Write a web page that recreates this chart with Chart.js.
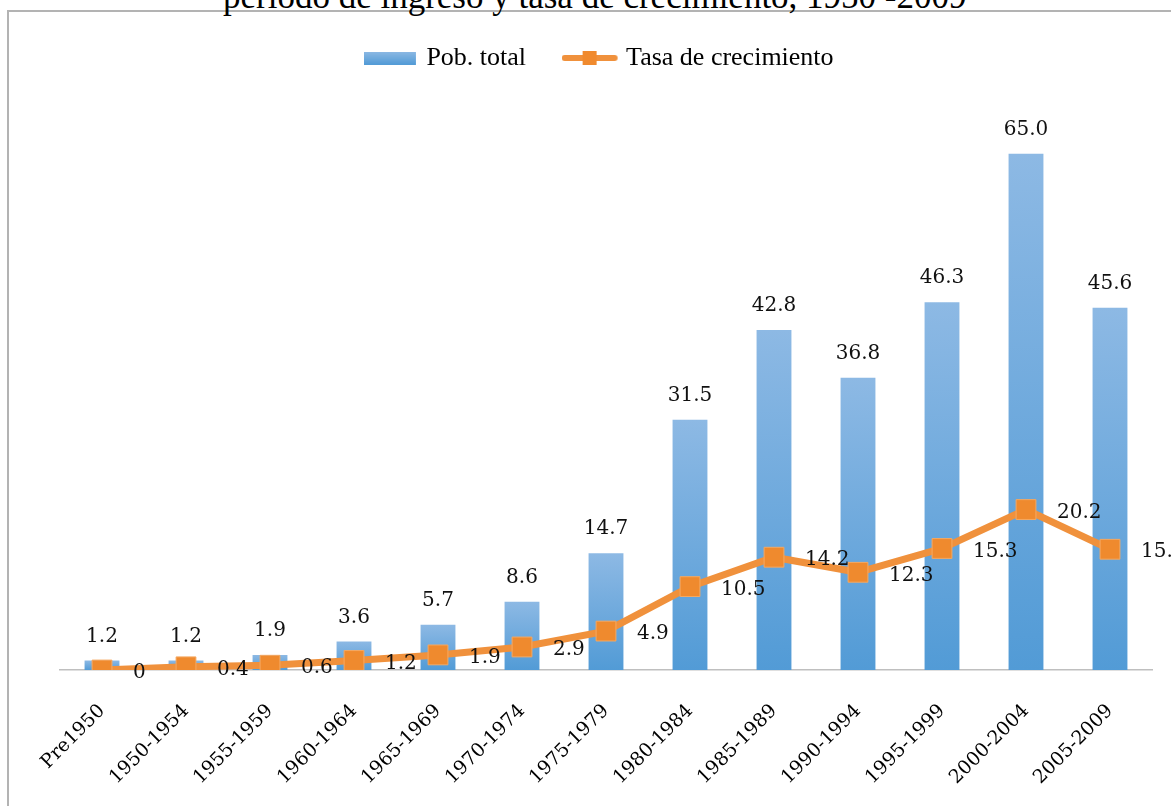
<!DOCTYPE html>
<html>
<head>
<meta charset="utf-8">
<script src="https://cdn.jsdelivr.net/npm/chart.js@4.4.0/dist/chart.umd.min.js"></script>
<style>
html, body { margin: 0; padding: 0; width: 1171px; height: 806px; overflow: hidden; background: #fff; }
#frame { position: absolute; left: 7px; top: 10px; width: 1300px; height: 900px; border-left: 2px solid #b3b3b3; border-top: 2px solid #b3b3b3; }
#title { position: absolute; left: 223px; top: -21px; font-family: "Liberation Serif"; font-size: 35px; line-height: 35px; white-space: nowrap; color: #000; }
#wrap { position: absolute; left: 8px; top: -8px; width: 1163px; height: 814px; }
</style>
</head>
<body>
<div id="frame"></div>
<div id="title">período de ingreso y tasa de crecimiento, 1950 -2009</div>
<div id="wrap"><canvas id="chart"></canvas></div>
<script>
var periods = ['Pre1950', '1950-1954', '1955-1959', '1960-1964', '1965-1969', '1970-1974', '1975-1979',
               '1980-1984', '1985-1989', '1990-1994', '1995-1999', '2000-2004', '2005-2009'];
var pobTotal = [1.2, 1.2, 1.9, 3.6, 5.7, 8.6, 14.7, 31.5, 42.8, 36.8, 46.3, 65.0, 45.6];
var tasaCrecimiento = [0, 0.4, 0.6, 1.2, 1.9, 2.9, 4.9, 10.5, 14.2, 12.3, 15.3, 20.2, 15.2];

var blueTop = '#8db9e4';
var blueBottom = '#529bd6';
var orange = '#f0913c';
var serif = "'DejaVu Serif', 'Liberation Serif', serif";

function barGradient(context) {
    var chart = context.chart;
    var v = context.raw;
    if (!chart.chartArea || typeof v !== 'number') return '#6aa7dc';
    var top = chart.scales.y.getPixelForValue(v);
    var bottom = chart.scales.y.getPixelForValue(0);
    if (bottom - top < 1) return '#6aa7dc';
    var g = chart.ctx.createLinearGradient(0, top, 0, bottom);
    g.addColorStop(0, blueTop);
    g.addColorStop(1, blueBottom);
    return g;
}

// legend icons, drawn like the excel ones (left part of a wider canvas so they sit a bit left)
function barIcon() {
    var c = document.createElement('canvas');
    c.width = 64; c.height = 13;
    var x = c.getContext('2d');
    var g = x.createLinearGradient(0, 0, 0, 13);
    g.addColorStop(0, blueTop);
    g.addColorStop(1, blueBottom);
    x.fillStyle = g;
    x.fillRect(0, 0, 52, 13);
    return c;
}

function lineIcon() {
    var c = document.createElement('canvas');
    c.width = 68; c.height = 18;
    var x = c.getContext('2d');
    x.strokeStyle = orange;
    x.lineWidth = 6;
    x.lineCap = 'round';
    x.beginPath();
    x.moveTo(3, 9);
    x.lineTo(53, 9);
    x.stroke();
    x.fillStyle = '#f08a2e';
    x.fillRect(21, 2, 14, 14);
    return c;
}

var legendIcons = [barIcon(), lineIcon()];

var legendGap = {
    id: 'legendGap',
    beforeInit: function (chart) {
        var fit = chart.legend.fit;
        chart.legend.fit = function () {
            fit.call(this);
            this.height += 33;
        };
    }
};

var valueLabels = {
    id: 'valueLabels',
    afterDatasetsDraw: function (chart) {
        var ctx = chart.ctx;
        ctx.save();
        ctx.font = '20px ' + serif;
        ctx.fillStyle = '#111';
        ctx.textBaseline = 'middle';
        chart.getDatasetMeta(0).data.forEach(function (bar, i) {
            ctx.textAlign = 'center';
            ctx.fillText(pobTotal[i].toFixed(1), bar.x, bar.y - 24);
        });
        chart.getDatasetMeta(1).data.forEach(function (pt, i) {
            ctx.textAlign = 'left';
            ctx.fillText(String(tasaCrecimiento[i]), pt.x + 31, pt.y + 3);
        });
        ctx.restore();
    }
};

var ctx = document.getElementById('chart').getContext('2d');
var chart = new Chart(ctx, {
    type: 'bar',
    data: {
        labels: periods,
        datasets: [{
            type: 'bar',
            label: 'Pob. total',
            data: pobTotal,
            backgroundColor: barGradient,
            categoryPercentage: 1,
            barPercentage: 0.415,
            order: 2
        }, {
            type: 'line',
            label: 'Tasa de crecimiento',
            data: tasaCrecimiento,
            borderColor: orange,
            borderWidth: 7,
            pointStyle: 'rect',
            pointRadius: 14,
            pointBackgroundColor: '#ef8a2e',
            pointBorderColor: '#f6a860',
            pointBorderWidth: 1,
            tension: 0,
            order: 1
        }]
    },
    options: {
        responsive: true,
        maintainAspectRatio: false,
        animation: false,
        layout: {
            padding: { top: 1, left: 52, right: 19, bottom: 0 }
        },
        scales: {
            x: {
                offset: true,
                grid: { display: false, drawTicks: false },
                border: { display: true, color: '#bfbfbf', width: 1.5 },
                ticks: {
                    color: '#000',
                    font: { family: serif, size: 19 },
                    minRotation: 45,
                    maxRotation: 45,
                    autoSkip: false,
                    padding: 30
                },
                afterFit: function (scale) {
                    scale.height = 136;
                }
            },
            y: {
                display: false,
                min: 0,
                max: 70
            }
        },
        plugins: {
            tooltip: { enabled: false },
            legend: {
                position: 'top',
                labels: {
                    usePointStyle: true,
                    pointStyleWidth: 35,
                    padding: 52,
                    color: '#000',
                    font: { family: 'Liberation Serif', size: 26 },
                    generateLabels: function (chart) {
                        return chart.data.datasets.map(function (ds, i) {
                            return {
                                text: ds.label,
                                pointStyle: legendIcons[i],
                                datasetIndex: i,
                                lineWidth: 0,
                                hidden: false,
                                fontColor: '#000'
                            };
                        });
                    }
                }
            }
        }
    },
    plugins: [legendGap, valueLabels]
});
</script>
</body>
</html>
